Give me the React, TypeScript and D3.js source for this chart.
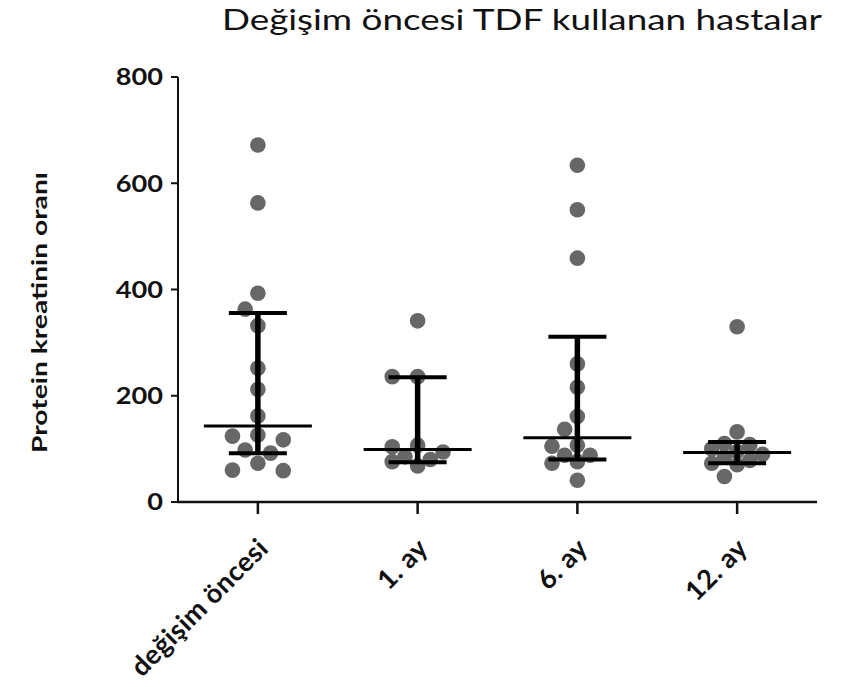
import React from "react";
import * as d3 from "d3";

const title = "Değişim öncesi TDF kullanan hastalar";
const yLabel = "Protein kreatinin oranı";
const categories = ["değişim öncesi", "1. ay", "6. ay", "12. ay"];
const yTicks = [0, 200, 400, 600, 800];

const values0 = [672, 563, 393, 363, 332, 252, 212, 162, 126, 124, 117, 98, 92, 73, 60, 59];
const values1 = [341, 236, 236, 107, 104, 94, 85, 80, 76, 68];
const values2 = [634, 550, 459, 260, 216, 161, 137, 107, 105, 88, 88, 76, 73, 41];
const values3 = [330, 132, 110, 108, 100, 95, 90, 85, 78, 73, 70, 48];
const seriesValues = [values0, values1, values2, values3];

const medians = [143, 99, 121, 93];
const upper = [356, 235, 311, 113];
const lower = [92, 75, 80, 73];

const W = 854;
const H = 687;
const FONT = "Lato, 'Open Sans', sans-serif";

function beeswarm(vals: number[], y: (v: number) => number, step: number, minDist: number, maxSlot: number) {
  const placed: { x: number; y: number }[] = [];
  const order = [...vals].sort((a, b) => b - a);
  const out: { dx: number; v: number }[] = [];
  const cands = [0];
  for (let s = 1; s <= maxSlot; s++) cands.push(-s, s);
  for (const v of order) {
    const py = y(v);
    let best = 0;
    let bestD = -1;
    for (const c of cands) {
      const px = c * step;
      const d = placed.length ? Math.min(...placed.map((p) => Math.hypot(p.x - px, p.y - py))) : Infinity;
      if (d >= minDist) {
        best = c;
        bestD = d;
        break;
      }
      if (d > bestD) {
        bestD = d;
        best = c;
      }
    }
    placed.push({ x: best * step, y: py });
    out.push({ dx: best * step, v });
  }
  return out;
}

export default function App() {
  const left = 178;
  const right = 817;
  const top = 77;
  const bottom = 502;
  const y = d3.scaleLinear().domain([0, 800]).range([bottom, top]);
  const x = d3.scalePoint<string>().domain(categories).range([left, right]).padding(0.5);

  return (
    <svg width={W} height={H} style={{ display: "block", position: "absolute", left: 0, top: 0 }}>
      <rect width={W} height={H} fill="#fff" />
      <text x={222} y={30} fontFamily={FONT} fontSize={28} fill="#111" textLength={600} lengthAdjust="spacingAndGlyphs">
        {title}
      </text>
      <text
        transform={`translate(47,${(172 + 453) / 2}) rotate(-90)`}
        textAnchor="middle"
        fontFamily={FONT}
        fontWeight="bold"
        fontSize={21}
        fill="#111"
        textLength={281}
        lengthAdjust="spacingAndGlyphs"
      >
        {yLabel}
      </text>

      {/* axes */}
      <line x1={left} x2={left} y1={top} y2={bottom + 1} stroke="#111" strokeWidth={2} />
      <line x1={left - 1} x2={right} y1={bottom} y2={bottom} stroke="#111" strokeWidth={2.5} />
      {yTicks.map((t) => (
        <g key={t}>
          <line x1={left - 7} x2={left} y1={y(t)} y2={y(t)} stroke="#111" strokeWidth={2} />
          <text
            transform={`translate(163,${y(t)}) scale(1.18,1)`}
            dy="0.36em"
            textAnchor="end"
            fontFamily={FONT}
            fontWeight="bold"
            fontSize={23}
            fill="#111"
          >
            {t}
          </text>
        </g>
      ))}
      {categories.map((c) => (
        <g key={c}>
          <line x1={x(c)!} x2={x(c)!} y1={bottom} y2={bottom + 12} stroke="#111" strokeWidth={2.5} />
          <text
            transform={`translate(${x(c)! + 12},${bottom + 48}) rotate(-45)`}
            textAnchor="end"
            fontFamily={FONT}
            fontWeight="bold"
            fontSize={27}
            letterSpacing={0.4}
            fill="#111"
          >
            {c}
          </text>
        </g>
      ))}

      {/* points */}
      {categories.map((c, gi) => {
        const pts = beeswarm(seriesValues[gi], y, 12.7, 16, 2);
        return (
          <g key={c}>
            {pts.map((p, i) => (
              <circle key={i} cx={x(c)! + p.dx} cy={y(p.v)} r={7.8} fill="#676767" />
            ))}
          </g>
        );
      })}

      {/* median and IQR */}
      {categories.map((c, gi) => {
        const cx = x(c)!;
        return (
          <g key={c} stroke="#000">
            <line x1={cx} x2={cx} y1={y(upper[gi])} y2={y(lower[gi])} strokeWidth={5.5} />
            <line x1={cx - 29} x2={cx + 29} y1={y(upper[gi])} y2={y(upper[gi])} strokeWidth={4} />
            <line x1={cx - 29} x2={cx + 29} y1={y(lower[gi])} y2={y(lower[gi])} strokeWidth={4} />
            <line x1={cx - 54} x2={cx + 54} y1={y(medians[gi])} y2={y(medians[gi])} strokeWidth={3} />
          </g>
        );
      })}
    </svg>
  );
}
